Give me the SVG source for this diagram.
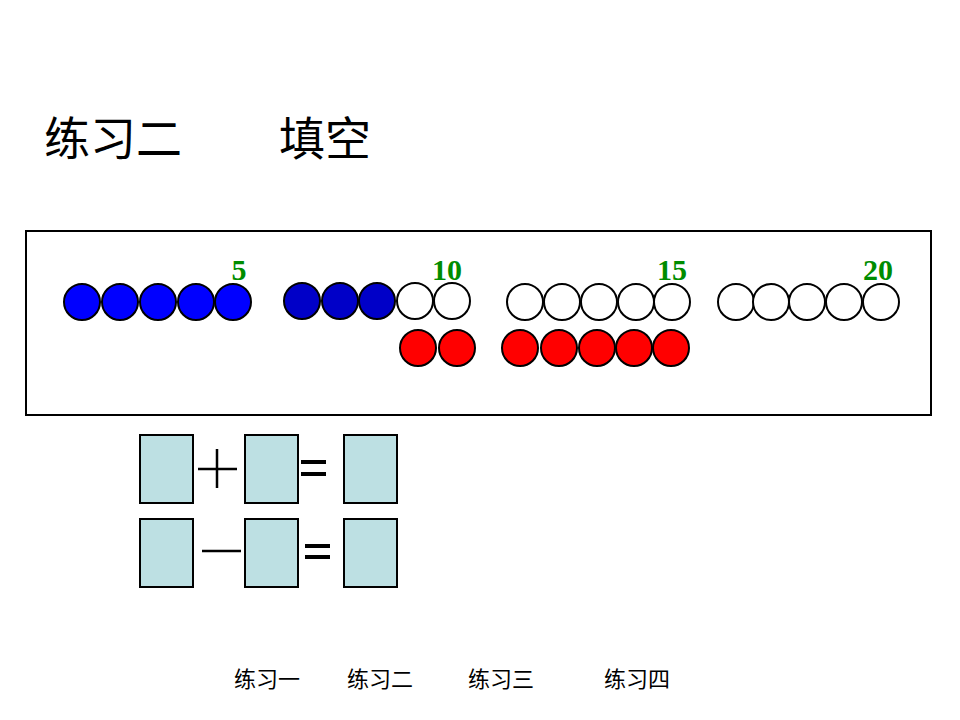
<svg xmlns="http://www.w3.org/2000/svg" width="960" height="720" viewBox="0 0 960 720">
<style>
.b{fill:#0000ff;stroke:#000;stroke-width:2}
.d{fill:#0000c8;stroke:#000;stroke-width:2}
.w{fill:#fff;stroke:#000;stroke-width:2}
.r{fill:#ff0000;stroke:#000;stroke-width:2}
.n{font-family:"Liberation Serif",serif;font-weight:bold;font-size:30px;fill:#008c00;text-anchor:middle}
.box{fill:#bde0e3;stroke:#000;stroke-width:2}
.t{font-family:"Liberation Serif","Noto Sans CJK SC",serif;font-size:46px;fill:#000}
.nav{font-family:"Noto Sans CJK SC",sans-serif;font-size:22px;fill:#000}
</style>
<rect width="960" height="720" fill="#fff"/>
<g id="title"><text class="t" x="44" y="155">练习二</text><text class="t" x="279" y="155">填空</text></g>
<g id="frame"><rect x="26" y="231" width="905" height="184" fill="none" stroke="#000" stroke-width="2"/></g>
<g id="labels"><text class="n" x="239" y="280">5</text><text class="n" x="447" y="280">10</text><text class="n" x="672" y="280">15</text><text class="n" x="878" y="280">20</text></g>
<g id="beads">
<circle class="b" cx="82" cy="302" r="18"/><circle class="b" cx="120" cy="302" r="18"/><circle class="b" cx="158" cy="302" r="18"/><circle class="b" cx="196" cy="302" r="18"/><circle class="b" cx="233" cy="302" r="18"/>
<circle class="d" cx="302" cy="301" r="18"/><circle class="d" cx="340" cy="301" r="18"/><circle class="d" cx="377" cy="301" r="18"/><circle class="w" cx="415" cy="301" r="18"/><circle class="w" cx="452" cy="301" r="18"/>
<circle class="r" cx="418" cy="348" r="18"/><circle class="r" cx="457" cy="348" r="18"/>
<circle class="w" cx="525" cy="302" r="18"/><circle class="w" cx="562" cy="302" r="18"/><circle class="w" cx="599" cy="302" r="18"/><circle class="w" cx="636" cy="302" r="18"/><circle class="w" cx="672" cy="302" r="18"/>
<circle class="r" cx="520" cy="348" r="18"/><circle class="r" cx="559" cy="348" r="18"/><circle class="r" cx="597" cy="348" r="18"/><circle class="r" cx="634" cy="348" r="18"/><circle class="r" cx="671" cy="348" r="18"/>
<circle class="w" cx="736" cy="302" r="18"/><circle class="w" cx="771" cy="302" r="18"/><circle class="w" cx="807" cy="302" r="18"/><circle class="w" cx="844" cy="302" r="18"/><circle class="w" cx="881" cy="302" r="18"/>
</g>
<g id="eq1">
<rect class="box" x="140" y="435" width="53" height="68"/><rect class="box" x="245" y="435" width="53" height="68"/><rect class="box" x="344" y="435" width="53" height="68"/>
<path d="M198 469H237M217 449V488" stroke="#000" stroke-width="2.5"/>
<path d="M301 462H326M301 474H326" stroke="#000" stroke-width="4"/>
</g>
<g id="eq2">
<rect class="box" x="140" y="519" width="53" height="68"/><rect class="box" x="245" y="519" width="53" height="68"/><rect class="box" x="344" y="519" width="53" height="68"/>
<path d="M202 551H241" stroke="#000" stroke-width="2.5"/>
<path d="M305 546H330M305 557H330" stroke="#000" stroke-width="4"/>
</g>
<g id="nav"><text class="nav" x="234" y="687">练习一</text><text class="nav" x="347" y="687">练习二</text><text class="nav" x="468" y="687">练习三</text><text class="nav" x="604" y="687">练习四</text></g>
</svg>
